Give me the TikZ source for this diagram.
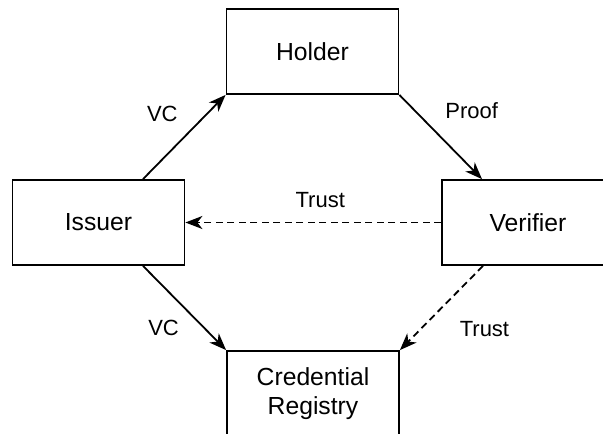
\documentclass[tikz,border=0pt]{standalone}
\usepackage{fontspec}
\setmainfont{Liberation Sans}
\usetikzlibrary{arrows.meta}

\begin{document}
\begin{tikzpicture}[x=1pt, y=-1pt,
  box/.style={draw, rectangle, line width=1.8pt, minimum width=172pt, minimum height=85pt, align=center, font=\fontsize{24.7}{29}\selectfont},
  flow/.style={-{Stealth[length=17pt, width=13pt, inset=5pt]}, line width=1.8pt},
  trust/.style={flow, dash pattern=on 7pt off 4.5pt},
  lbl/.style={font=\fontsize{22}{26}\selectfont, inner sep=0pt}]
  \useasboundingbox (0,0) rectangle (603,434);
  \fill[white] (0,0) rectangle (603,434);
  \clip (0,0) rectangle (603,434);

  \node[box] (holder) at (312.5,51.5) {Holder};
  \node[box] (issuer) at (98.5,222.5) {Issuer};
  \node[box] (verifier) at (528,222.5) {Verifier};
  \node[box] (registry) at (313,393.5) {Credential\\Registry};

  \draw[flow] ([xshift=44.5pt]issuer.north) -- node[lbl, xshift=-22pt, yshift=23pt] {VC} (holder.south west);
  \draw[flow] (holder.south east) -- node[lbl, xshift=31pt, yshift=26pt] {Proof} ([xshift=-46pt]verifier.north);
  \draw[trust] (verifier.west) -- node[lbl, xshift=7pt, yshift=22pt] {Trust} (issuer.east);
  \draw[flow] ([xshift=44.5pt]issuer.south) -- node[lbl, xshift=-21pt, yshift=-20pt] {VC} (registry.north west);
  \draw[trust] ([xshift=-45pt]verifier.south) -- node[lbl, xshift=43pt, yshift=-21pt] {Trust} (registry.north east);
\end{tikzpicture}
\end{document}
